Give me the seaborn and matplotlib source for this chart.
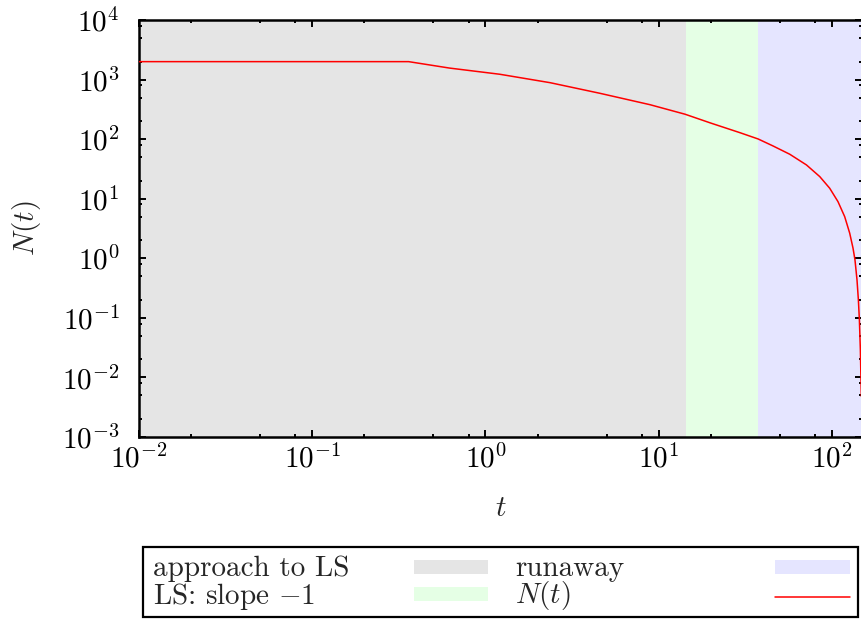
import numpy as np
import pandas as pd
import matplotlib
matplotlib.use("Agg")
import matplotlib.pyplot as plt
import seaborn as sns
from matplotlib.ticker import LogLocator, NullFormatter
from matplotlib.patches import Rectangle
from matplotlib.lines import Line2D

# ---- data ----
t_vals = [0.01, 0.36, 0.62, 1.21, 2.36, 4.57, 8.9, 14.2, 20.0, 29.4, 37.5,
          45.7, 57.1, 71.3, 85.1, 97.1, 108.4, 118.5, 126.7, 132.4, 135.9,
          139.6, 142.2, 144.1, 146.0, 147.2, 147.9]
n_vals = [2000, 2000, 1560, 1228, 887, 589, 379, 262, 186, 128.6, 100.7,
          76.9, 55.8, 36.9, 23.5, 15.0, 8.94, 5.01, 2.64, 1.48, 0.94,
          0.434, 0.200, 0.0925, 0.029, 0.0091, 0.0048]

region_labels = ["approach to LS", "LS: slope $-1$", "runaway"]
region_edges = [0.01, 14.3, 37.3, 150.0]
region_colors = ["#e5e5e5", "#e5ffe5", "#e5e5ff"]
line_label = "$N(t)$"
line_color = "#ff0000"

x_limits = (0.01, 150.0)
y_limits = (1e-3, 1e4)

sns.set_theme(style="ticks")
plt.rcParams.update({
    "font.family": "serif",
    "font.serif": ["cmr10", "DejaVu Serif"],
    "mathtext.fontset": "cm",
    "axes.formatter.use_mathtext": True,
    "axes.unicode_minus": True,
    "font.size": 21,
})

W, H = 862, 619
fig = plt.figure(figsize=(W / 100, H / 100), dpi=100)

left_px, bottom_px, top_px = 139, 437, 20
dec_px = (831.9 - 139) / 4
width_px = (np.log10(x_limits[1]) - np.log10(x_limits[0])) * dec_px
ax = fig.add_axes([left_px / W, 1 - bottom_px / H, width_px / W, (bottom_px - top_px) / H])

for i in range(len(region_labels)):
    ax.axvspan(region_edges[i], region_edges[i + 1], color=region_colors[i], lw=0, zorder=0)

df = pd.DataFrame({"t": t_vals, "N": n_vals})
sns.lineplot(data=df, x="t", y="N", ax=ax, color=line_color, lw=1.1, zorder=3,
             estimator=None, sort=False)

ax.set_xscale("log")
ax.set_yscale("log")
ax.set_xlim(*x_limits)
ax.set_ylim(*y_limits)

for axis in (ax.xaxis, ax.yaxis):
    axis.set_major_locator(LogLocator(base=10, numticks=20))
    axis.set_minor_locator(LogLocator(base=10, subs=(2, 5, 8), numticks=20))
    axis.set_minor_formatter(NullFormatter())

ax.tick_params(which="both", direction="in", top=True, right=True, colors="black")
ax.tick_params(which="major", length=5, width=1.4)
ax.tick_params(which="minor", length=2.5, width=1.4)
ax.tick_params(axis="x", which="major", pad=5, labelsize=21)
ax.tick_params(axis="y", which="major", pad=14, labelsize=21)

for s in ax.spines.values():
    s.set_linewidth(1.8)
    s.set_color("black")

ax.set_xlabel("$t$", fontsize=21, labelpad=16)
ax.set_ylabel("$N(t)$", fontsize=21, labelpad=14)
ax.grid(False)

# ---- legend box (gnuplot style: text left, sample right) ----
def fx(px):
    return px / W

def fy(py):
    return 1 - py / H

fig.patches.append(Rectangle((fx(143), fy(617)), fx(858) - fx(143), fy(547) - fy(617),
                             transform=fig.transFigure, fill=False, ec="black", lw=1.6))

entries = [(region_labels[0], "patch", region_colors[0]),
           (region_labels[1], "patch", region_colors[1]),
           (region_labels[2], "patch", region_colors[2]),
           (line_label, "line", line_color)]
col_text_x = [153, 515]
col_handle_x = [(414, 488), (775, 850)]
row_y = [567, 594]
for k, (lab, kind, col) in enumerate(entries):
    c, r = divmod(k, 2)
    fig.text(fx(col_text_x[c]), fy(row_y[r] + 2), lab, ha="left", va="center", fontsize=21)
    x0, x1 = col_handle_x[c]
    if kind == "patch":
        fig.patches.append(Rectangle((fx(x0), fy(row_y[r] + 7)), fx(x1) - fx(x0), fy(row_y[r] - 7) - fy(row_y[r] + 7),
                                     transform=fig.transFigure, color=col, lw=0))
    else:
        fig.lines.append(Line2D([fx(x0), fx(x1)], [fy(row_y[r] + 3), fy(row_y[r] + 3)],
                                transform=fig.transFigure, color=col, lw=1.1))

fig.savefig("out.png", dpi=100)
